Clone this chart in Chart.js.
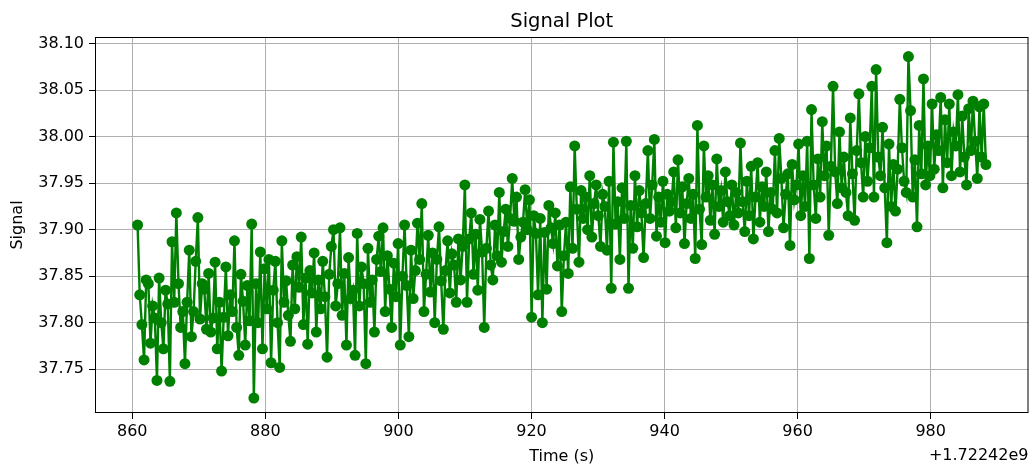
<!DOCTYPE html>
<html>
<head>
<meta charset="utf-8">
<script src="https://cdn.jsdelivr.net/npm/chart.js@4/dist/chart.umd.min.js"></script>
<style>
  body { margin: 0; background: #fff; }
  #wrap { width: 1034px; height: 466px; }
</style>
</head>
<body>
<div id="wrap"><canvas id="signalChart" width="1034" height="466"></canvas></div>
<script>
// sample clock (seconds, relative to the 1.72242e9 offset)
const tStart = 860.8;
const tEnd = 988.3;

// signal readings, one per sample
const signal = [
  // 860 - 870
  37.905, 37.830, 37.798, 37.760, 37.846, 37.842, 37.778, 37.818, 37.805, 37.738, 37.848, 37.800,
  37.772, 37.835, 37.820, 37.737, 37.887, 37.822, 37.918, 37.842, 37.795, 37.812, 37.756, 37.822,
  37.878, 37.785, 37.812, 37.866, 37.913, 37.804, 37.842,
  // 870 - 880
  37.836, 37.793, 37.853, 37.790, 37.805, 37.865, 37.772, 37.822, 37.748, 37.806, 37.860, 37.786,
  37.830, 37.812, 37.888, 37.795, 37.765, 37.852, 37.823, 37.776, 37.840, 37.802, 37.906, 37.719,
  37.842, 37.800, 37.876, 37.772, 37.858, 37.815, 37.868,
  // 880 - 890
  37.757, 37.835, 37.866, 37.800, 37.752, 37.888, 37.822, 37.845, 37.808, 37.780, 37.862, 37.815,
  37.871, 37.838, 37.892, 37.798, 37.848, 37.777, 37.856, 37.832, 37.875, 37.790, 37.846, 37.815,
  37.866, 37.828, 37.763, 37.852, 37.882, 37.900, 37.818,
  // 890 - 900
  37.842, 37.902, 37.808, 37.853, 37.776, 37.870, 37.826, 37.835, 37.765, 37.896, 37.818, 37.860,
  37.842, 37.756, 37.880, 37.822, 37.846, 37.790, 37.868, 37.893, 37.855, 37.902, 37.812, 37.872,
  37.836, 37.795, 37.864, 37.828, 37.885, 37.776, 37.850,
  // 900 - 910
  37.905, 37.840, 37.785, 37.878, 37.826, 37.856, 37.907, 37.868, 37.928, 37.812, 37.852, 37.894,
  37.833, 37.875, 37.800, 37.868, 37.903, 37.845, 37.793, 37.856, 37.888, 37.832, 37.874, 37.862,
  37.822, 37.890, 37.846, 37.882, 37.948, 37.822, 37.890,
  // 910 - 920
  37.918, 37.852, 37.895, 37.835, 37.911, 37.876, 37.795, 37.880, 37.920, 37.862, 37.846, 37.905,
  37.872, 37.940, 37.865, 37.898, 37.922, 37.882, 37.912, 37.955, 37.909, 37.935, 37.868, 37.892,
  37.908, 37.943, 37.900, 37.932, 37.806, 37.915, 37.896,
  // 920 - 930
  37.830, 37.912, 37.800, 37.897, 37.836, 37.926, 37.902, 37.885, 37.918, 37.861, 37.905, 37.812,
  37.872, 37.908, 37.853, 37.946, 37.880, 37.990, 37.922, 37.865, 37.942, 37.912, 37.935, 37.900,
  37.958, 37.892, 37.928, 37.948, 37.915, 37.882, 37.938,
  // 930 - 940
  37.925, 37.878, 37.952, 37.837, 37.994, 37.906, 37.930, 37.868, 37.945, 37.912, 37.995, 37.837,
  37.926, 37.880, 37.958, 37.903, 37.942, 37.918, 37.870, 37.928, 37.985, 37.912, 37.948, 37.997,
  37.893, 37.935, 37.908, 37.952, 37.886, 37.938, 37.920,
  // 940 - 950
  37.930, 37.962, 37.902, 37.975, 37.918, 37.946, 37.885, 37.928, 37.955, 37.912, 37.938, 37.869,
  38.012, 37.922, 37.884, 37.990, 37.935, 37.958, 37.910, 37.948, 37.895, 37.976, 37.925, 37.942,
  37.908, 37.962, 37.930, 37.915, 37.948, 37.905, 37.940,
  // 950 - 960
  37.918, 37.993, 37.930, 37.898, 37.952, 37.915, 37.968, 37.890, 37.935, 37.972, 37.908, 37.946,
  37.925, 37.962, 37.898, 37.940, 37.922, 37.985, 37.918, 37.998, 37.955, 37.902, 37.938, 37.960,
  37.883, 37.970, 37.932, 37.948, 37.992, 37.915, 37.958,
  // 960 - 970
  37.925, 37.995, 37.869, 38.029, 37.948, 37.912, 37.976, 37.935, 38.016, 37.958, 37.990, 37.894,
  37.968, 38.054, 37.962, 37.928, 38.005, 37.945, 37.978, 37.940, 37.915, 38.020, 37.960, 37.910,
  37.985, 38.046, 37.972, 37.935, 38.000, 37.952, 37.988,
  // 970 - 980
  38.054, 37.935, 38.072, 37.978, 37.958, 38.010, 37.945, 37.886, 37.992, 37.925, 37.970, 37.920,
  37.965, 38.040, 37.988, 37.952, 37.940, 38.086, 38.028, 37.935, 37.975, 37.903, 38.012, 37.960,
  38.062, 37.948, 37.990, 37.958, 38.035, 37.965, 38.002,
  // 980 - 988
  37.985, 38.042, 37.945, 38.018, 37.972, 38.035, 37.958, 38.005, 37.990, 38.045, 37.962, 38.022,
  37.978, 37.948, 38.030, 37.985, 38.038, 37.995, 37.955, 38.032, 37.978, 38.035, 37.970
];

const xTicks = [860, 880, 900, 920, 940, 960, 980];
const yTicks = [37.75, 37.80, 37.85, 37.90, 37.95, 38.00, 38.05, 38.10];

const dt = (tEnd - tStart) / (signal.length - 1);
const points = signal.map((v, i) => ({ x: tStart + i * dt, y: v }));

const FONT = "'DejaVu Sans', sans-serif";
const GREEN = '#008000';

// frame, title and the axis offset label
const decorations = {
  id: 'decorations',
  afterDatasetsDraw(chart) {
    const { ctx, chartArea: a } = chart;
    ctx.save();
    ctx.strokeStyle = '#000';
    ctx.lineWidth = 1;
    ctx.strokeRect(a.left + 0.5, a.top + 0.5, a.right - a.left - 1, a.bottom - a.top - 1);
    ctx.restore();
  },
  afterDraw(chart) {
    const { ctx, chartArea: a } = chart;
    ctx.save();
    ctx.fillStyle = '#000';
    ctx.font = '19.5px ' + FONT;
    ctx.textAlign = 'center';
    ctx.textBaseline = 'middle';
    ctx.fillText('Signal Plot', (a.left + a.right) / 2, 22);
    ctx.font = '16px ' + FONT;
    ctx.textAlign = 'right';
    ctx.fillText('+1.72242e9', a.right, 456);
    ctx.restore();
  }
};

new Chart(document.getElementById('signalChart'), {
  type: 'line',
  data: {
    datasets: [{
      label: 'Signal',
      data: points,
      borderColor: GREEN,
      backgroundColor: GREEN,
      borderWidth: 2.4,
      pointRadius: 5.5,
      pointBorderWidth: 0,
      pointBackgroundColor: GREEN,
      tension: 0,
      fill: false
    }]
  },
  options: {
    responsive: false,
    animation: false,
    devicePixelRatio: 1,
    layout: { padding: { left: 0, right: 4, top: 37, bottom: 0 } },
    plugins: {
      legend: { display: false },
      tooltip: { enabled: false }
    },
    scales: {
      x: {
        type: 'linear',
        min: 854.4,
        max: 994.7,
        afterFit(scale) { scale.height = 53; },
        afterBuildTicks(scale) { scale.ticks = xTicks.map(v => ({ value: v })); },
        border: { display: false },
        grid: { color: '#b0b0b0', lineWidth: 1, tickColor: '#000', tickLength: 6 },
        ticks: {
          color: '#000', padding: 3, maxRotation: 0,
          font: { family: FONT, size: 16 },
          callback: v => String(v)
        },
        title: {
          display: true, text: 'Time (s)', color: '#000',
          font: { family: FONT, size: 16 },
          padding: { top: 0, bottom: 0 }
        }
      },
      y: {
        min: 37.703,
        max: 38.107,
        afterFit(scale) { scale.width = 95; },
        afterBuildTicks(scale) { scale.ticks = yTicks.map(v => ({ value: v })); },
        border: { display: false },
        grid: { color: '#b0b0b0', lineWidth: 1, tickColor: '#000', tickLength: 6 },
        ticks: {
          color: '#000', padding: 5,
          font: { family: FONT, size: 16 },
          callback: v => v.toFixed(2)
        },
        title: {
          display: true, text: 'Signal', color: '#000',
          font: { family: FONT, size: 16 },
          padding: { top: 8, bottom: 0 }
        }
      }
    }
  },
  plugins: [decorations]
});
</script>
</body>
</html>
